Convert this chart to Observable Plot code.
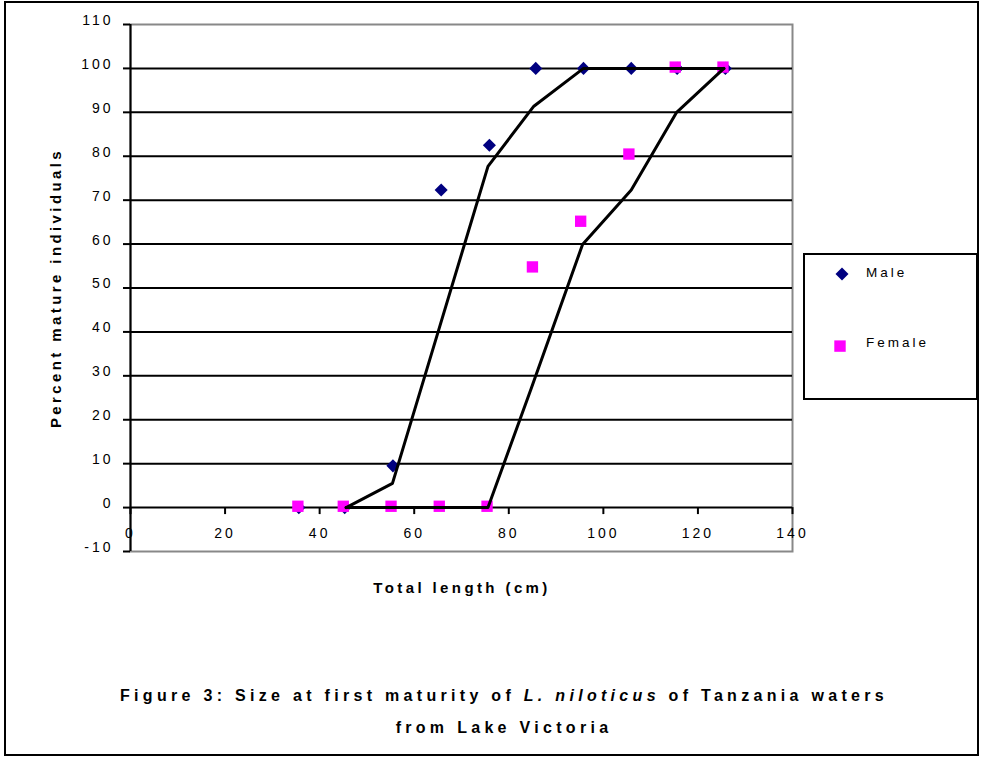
<!DOCTYPE html>
<html>
<head>
<meta charset="utf-8">
<script src="https://cdn.jsdelivr.net/npm/d3@7"></script>
<script src="https://cdn.jsdelivr.net/npm/@observablehq/plot@0.6"></script>
<style>
  body { margin: 0; background: #fff; font-family: Arial, "Liberation Sans", sans-serif; color: #000; }
  #wrap { position: relative; width: 981px; height: 757px; overflow: hidden; background: #fff; }
  #outer { position: absolute; left: 4px; top: 1px; width: 975px; height: 755px; border: 2px solid #000; box-sizing: border-box; }
  #chart { position: absolute; left: 0; top: 0; }
  #chart svg text { letter-spacing: 3px; }
  #ytitle { position: absolute; left: 55px; top: 288px; transform: translate(-50%, -50%) rotate(-90deg); white-space: nowrap; font-weight: bold; font-size: 15px; letter-spacing: 3.4px; }
  #xtitle { position: absolute; left: 462px; top: 587px; transform: translate(-50%, -50%); white-space: nowrap; font-weight: bold; font-size: 15px; letter-spacing: 3.4px; }
  #legend { position: absolute; left: 803px; top: 253px; width: 175px; height: 147px; border: 2px solid #000; box-sizing: border-box; background: #fff; }
  .lg-item { position: absolute; left: 0; width: 100%; height: 20px; }
  .lg-item svg { position: absolute; left: 22px; top: 0; }
  .lg-item span { position: absolute; left: 61px; top: 1px; font-size: 13.5px; letter-spacing: 3px; line-height: 16px; }
  .cap { position: absolute; left: 24px; width: 960px; text-align: center; font-weight: bold; font-size: 16px; letter-spacing: 4.3px; white-space: nowrap; line-height: 20px; }
</style>
</head>
<body>
<div id="wrap">
  <div id="outer"></div>
  <div id="chart"></div>
  <div id="ytitle">Percent mature individuals</div>
  <div id="xtitle">Total length (cm)</div>
  <div id="legend"></div>
  <div class="cap" style="top:686px">Figure 3: Size at first maturity of <i>L. niloticus</i> of Tanzania waters</div>
  <div class="cap" style="top:718px">from Lake Victoria</div>
</div>
<script>
// ---- data ----
const maleLength   = [35.6, 45.3, 55.5, 65.7, 75.9, 85.7, 95.8, 105.9, 115.6, 125.8];
const malePct      = [0, 0, 9.5, 72.3, 82.5, 100, 100, 100, 100, 100];
const femaleLength = [35.4, 45.0, 55.1, 65.3, 75.4, 85.0, 95.2, 105.4, 115.2, 125.3];
const femalePct    = [0.3, 0.3, 0.3, 0.3, 0.3, 54.8, 65.2, 80.5, 100.3, 100.3];
const maleFitLength   = [45.6, 55.4, 65.5, 75.6, 85.3, 95.8, 105.8, 115.7, 125.5];
const maleFitPct      = [0, 5.5, 41.6, 77.7, 91.4, 100, 100, 100, 100];
const femaleFitLength = [45.6, 55.5, 65.5, 75.6, 84.8, 95.6, 105.9, 115.5, 125.5];
const femaleFitPct    = [0, 0, 0, 0, 27.3, 59.9, 72.3, 90, 100];
const xTicks = [0, 20, 40, 60, 80, 100, 120, 140];
const yTicks = [-10, 0, 10, 20, 30, 40, 50, 60, 70, 80, 90, 100, 110];
const gridValues = [0, 10, 20, 30, 40, 50, 60, 70, 80, 90, 100];
const seriesNames = ["Male", "Female"];
const seriesColors = ["#000080", "#FF00FF"];
const axisCross = 0;

const male = maleLength.map((x, i) => ({x, y: malePct[i]}));
const female = femaleLength.map((x, i) => ({x, y: femalePct[i]}));
const maleFit = maleFitLength.map((x, i) => ({x, y: maleFitPct[i]}));
const femaleFit = femaleFitLength.map((x, i) => ({x, y: femaleFitPct[i]}));

const chart = Plot.plot({
  width: 981,
  height: 610,
  marginLeft: 130,
  marginTop: 24,
  marginRight: 189,
  marginBottom: 59,
  x: {domain: [0, 140], axis: null},
  y: {domain: [-10, 110], axis: null},
  style: {fontFamily: "Arial, 'Liberation Sans', sans-serif", fontSize: "14px", color: "#000", background: "transparent", overflow: "visible"},
  marks: [
    Plot.frame({stroke: "#888888", strokeWidth: 2}),
    Plot.ruleY(gridValues, {y: d => d, stroke: "#000", strokeWidth: 2}),
    Plot.ruleX([axisCross], {x: d => d, stroke: "#000", strokeWidth: 2}),
    Plot.ruleY(yTicks, {y: d => d, x1: () => axisCross, x2: () => axisCross, insetLeft: -7, stroke: "#000", strokeWidth: 2}),
    Plot.ruleX(xTicks, {x: d => d, y1: () => axisCross, y2: () => axisCross, insetBottom: -7, stroke: "#000", strokeWidth: 2}),
    Plot.text(yTicks, {y: d => d, frameAnchor: "left", text: d => String(d), textAnchor: "end", dx: -17, dy: -4, fill: "#000"}),
    Plot.text(xTicks, {x: d => d, y: () => axisCross, text: d => String(d), dy: 26, fill: "#000"}),
    Plot.dot(male, {x: "x", y: "y", symbol: "diamond2", r: 5.9, fill: seriesColors[0], stroke: null}),
    Plot.dot(female, {x: "x", y: "y", symbol: "square", r: 6.4, fill: seriesColors[1], stroke: null}),
    Plot.line(maleFit, {x: "x", y: "y", stroke: "#000", strokeWidth: 3}),
    Plot.line(femaleFit, {x: "x", y: "y", stroke: "#000", strokeWidth: 3})
  ]
});
document.getElementById("chart").appendChild(chart);

// legend
const legend = document.getElementById("legend");
const legendTops = [9, 79];
const legendShapes = [
  `<svg width="30" height="20" viewBox="-15 -10 30 20"><path d="M0,-6.5L6.5,0L0,6.5L-6.5,0Z" fill="${seriesColors[0]}"/></svg>`,
  `<svg width="30" height="20" viewBox="-15 -10 30 20"><rect x="-7.7" y="-3.6" width="11.4" height="11.4" fill="${seriesColors[1]}"/></svg>`
];
seriesNames.forEach((name, i) => {
  const item = document.createElement("div");
  item.className = "lg-item";
  item.style.top = legendTops[i] + "px";
  item.innerHTML = legendShapes[i] + `<span>${name}</span>`;
  legend.appendChild(item);
});
</script>
</body>
</html>
